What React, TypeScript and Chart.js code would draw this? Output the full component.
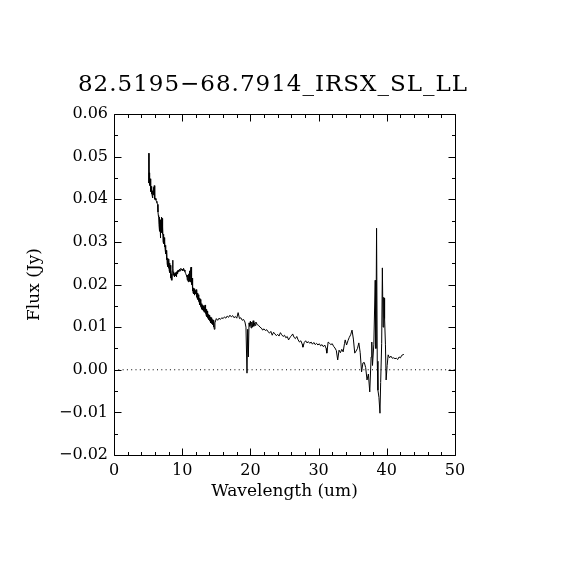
import React, { useEffect, useRef } from "react";
import { Chart, registerables } from "chart.js";

Chart.register(...registerables);

const TITLE = "82.5195\u221268.7914_IRSX_SL_LL";
const X_LABEL = "Wavelength (um)";
const Y_LABEL = "Flux (Jy)";

const X_MIN = 0;
const X_MAX = 50;
const X_STEP = 10;
const X_MINOR = 2;
const Y_MIN = -0.02;
const Y_MAX = 0.06;
const Y_STEP = 0.01;
const Y_MINOR = 0.005;

const wavelength = [
  5.10, 5.13, 5.16, 5.19, 5.22, 5.26, 5.30, 5.34, 5.38, 5.42,
  5.46, 5.50, 5.55, 5.60, 5.65, 5.70, 5.75, 5.80, 5.85, 5.90,
  5.95, 6.00, 6.08, 6.15, 6.22, 6.30, 6.38, 6.45, 6.50, 6.55,
  6.60, 6.65, 6.70, 6.75, 6.80, 6.85, 6.90, 6.95, 7.00, 7.05,
  7.10, 7.15, 7.20, 7.25, 7.30, 7.35, 7.40, 7.45, 7.50, 7.55,
  7.60, 7.65, 7.70, 7.75, 7.80, 7.85, 7.90, 7.95, 8.00, 8.05,
  8.10, 8.15, 8.20, 8.25, 8.30, 8.35, 8.40, 8.45, 8.50, 8.55,
  8.60, 8.65, 8.70, 8.75, 8.80, 8.85, 8.90, 8.95, 9.00, 9.05,
  9.10, 9.15, 9.20, 9.25, 9.30, 9.35, 9.40, 9.50, 9.60, 9.70,
  9.80, 9.90, 10.00, 10.10, 10.20, 10.30, 10.40, 10.50, 10.60, 10.70,
  10.75, 10.80, 10.85, 10.90, 10.95, 11.00, 11.05, 11.10, 11.15, 11.20,
  11.25, 11.30, 11.35, 11.40, 11.45, 11.50, 11.55, 11.60, 11.65, 11.70,
  11.75, 11.80, 11.85, 11.90, 11.95, 12.00, 12.05, 12.10, 12.15, 12.20,
  12.25, 12.30, 12.35, 12.40, 12.45, 12.50, 12.55, 12.60, 12.65, 12.70,
  12.75, 12.80, 12.85, 12.90, 12.95, 13.00, 13.05, 13.10, 13.15, 13.20,
  13.25, 13.30, 13.35, 13.40, 13.45, 13.50, 13.55, 13.60, 13.65, 13.70,
  13.75, 13.80, 13.85, 13.90, 13.95, 14.00, 14.05, 14.10, 14.15, 14.20,
  14.25, 14.30, 14.35, 14.40, 14.45, 14.50, 14.55, 14.60, 14.65, 14.70,
  14.80, 15.00, 15.20, 15.40, 15.60, 15.80, 16.00, 16.20, 16.40, 16.60,
  16.80, 17.00, 17.20, 17.40, 17.60, 17.80, 18.00, 18.20, 18.40, 18.60,
  18.80, 19.00, 19.20, 19.35, 19.50, 19.60, 19.70, 19.80, 19.90, 20.00,
  20.10, 20.20, 20.30, 20.40, 20.50, 20.60, 20.70, 20.80, 21.00, 21.20,
  21.40, 21.60, 21.80, 22.00, 22.20, 22.40, 22.60, 22.80, 23.00, 23.20,
  23.40, 23.60, 23.80, 24.00, 24.20, 24.40, 24.60, 24.80, 25.00, 25.20,
  25.40, 25.60, 25.80, 26.00, 26.20, 26.40, 26.60, 26.80, 27.00, 27.20,
  27.40, 27.60, 27.70, 27.90, 28.10, 28.30, 28.50, 28.70, 28.90, 29.10,
  29.30, 29.50, 29.70, 29.90, 30.10, 30.30, 30.50, 30.70, 30.90, 31.10,
  31.20, 31.40, 31.60, 31.80, 32.00, 32.20, 32.40, 32.60, 32.80, 33.00,
  33.20, 33.40, 33.60, 33.80, 33.90, 34.10, 34.30, 34.50, 34.70, 34.90,
  35.10, 35.30, 35.50, 35.70, 35.90, 36.10, 36.30, 36.50, 36.70, 36.90,
  37.10, 37.30, 37.50, 37.70, 37.80, 37.90, 38.10, 38.30, 38.40, 38.50,
  38.60, 38.70, 38.85, 39.00, 39.10, 39.25, 39.35, 39.45, 39.55, 39.60,
  39.65, 39.70, 39.80, 39.90, 40.05, 40.20, 40.40, 40.60, 40.80, 41.00,
  41.20, 41.40, 41.60, 41.80, 42.00, 42.20, 42.50,
];

const flux = [
  0.0508, 0.0438, 0.0462, 0.0432, 0.0455, 0.0440, 0.0448, 0.0428, 0.0440, 0.0418,
  0.0430, 0.0412, 0.0425, 0.0408, 0.0403, 0.0420, 0.0410, 0.0428, 0.0412, 0.0432,
  0.0405, 0.0400, 0.0402, 0.0398, 0.0395, 0.0392, 0.0388, 0.0370, 0.0362, 0.0358,
  0.0340, 0.0358, 0.0325, 0.0345, 0.0309, 0.0352, 0.0330, 0.0358, 0.0322, 0.0355,
  0.0318, 0.0335, 0.0300, 0.0318, 0.0296, 0.0310, 0.0288, 0.0300, 0.0282, 0.0292,
  0.0272, 0.0280, 0.0258, 0.0276, 0.0248, 0.0262, 0.0242, 0.0255, 0.0238, 0.0260,
  0.0232, 0.0250, 0.0228, 0.0245, 0.0215, 0.0235, 0.0212, 0.0225, 0.0210, 0.0232,
  0.0257, 0.0238, 0.0222, 0.0230, 0.0220, 0.0226, 0.0218, 0.0224, 0.0228, 0.0220,
  0.0226, 0.0218, 0.0230, 0.0225, 0.0232, 0.0226, 0.0234, 0.0230, 0.0236, 0.0232,
  0.0238, 0.0234, 0.0236, 0.0232, 0.0238, 0.0234, 0.0230, 0.0226, 0.0222, 0.0218,
  0.0210, 0.0222, 0.0215, 0.0206, 0.0225, 0.0208, 0.0232, 0.0215, 0.0206, 0.0228,
  0.0236, 0.0241, 0.0220, 0.0200, 0.0215, 0.0185, 0.0195, 0.0180, 0.0192, 0.0178,
  0.0190, 0.0175, 0.0188, 0.0180, 0.0186, 0.0178, 0.0188, 0.0170, 0.0185, 0.0168,
  0.0180, 0.0165, 0.0176, 0.0160, 0.0172, 0.0158, 0.0168, 0.0152, 0.0165, 0.0148,
  0.0160, 0.0145, 0.0155, 0.0142, 0.0152, 0.0140, 0.0150, 0.0138, 0.0150, 0.0135,
  0.0148, 0.0140, 0.0152, 0.0132, 0.0146, 0.0128, 0.0142, 0.0125, 0.0138, 0.0122,
  0.0136, 0.0120, 0.0130, 0.0118, 0.0128, 0.0115, 0.0126, 0.0114, 0.0124, 0.0110,
  0.0122, 0.0108, 0.0120, 0.0112, 0.0118, 0.0106, 0.0116, 0.0100, 0.0114, 0.0095,
  0.0110, 0.0120, 0.0116, 0.0121, 0.0118, 0.0122, 0.0120, 0.0124, 0.0121, 0.0126,
  0.0123, 0.0128, 0.0124, 0.0127, 0.0122, 0.0125, 0.0121, 0.0134, 0.0120, 0.0122,
  0.0116, 0.0118, 0.0112, 0.0100, -0.0008, 0.0095, 0.0030, 0.0110, 0.0102, 0.0114,
  0.0098, 0.0112, 0.0100, 0.0115, 0.0102, 0.0110, 0.0104, 0.0112, 0.0106, 0.0104,
  0.0100, 0.0098, 0.0093, 0.0096, 0.0092, 0.0094, 0.0089, 0.0086, 0.0090, 0.0081,
  0.0088, 0.0084, 0.0080, 0.0083, 0.0079, 0.0087, 0.0082, 0.0078, 0.0081, 0.0075,
  0.0078, 0.0070, 0.0076, 0.0079, 0.0084, 0.0076, 0.0073, 0.0078, 0.0070, 0.0065,
  0.0068, 0.0060, 0.0053, 0.0064, 0.0068, 0.0063, 0.0066, 0.0062, 0.0065, 0.0060,
  0.0064, 0.0059, 0.0062, 0.0058, 0.0061, 0.0056, 0.0059, 0.0054, 0.0058, 0.0050,
  0.0039, 0.0065, 0.0062, 0.0059, 0.0061, 0.0055, 0.0051, 0.0045, 0.0023, 0.0046,
  0.0040, 0.0048, 0.0042, 0.0062, 0.0070, 0.0058, 0.0068, 0.0076, 0.0082, 0.0093,
  0.0072, 0.0039, 0.0044, 0.0050, 0.0063, 0.0040, -0.0005, 0.0016, 0.0017, 0.0005,
  -0.0024, -0.0010, -0.0052, 0.0030, 0.0065, 0.0010, 0.0060, 0.0210, 0.0050, 0.0332,
  0.0020, -0.0048, -0.0065, -0.0102, -0.0030, 0.0062, 0.0239, 0.0100, 0.0170, 0.0125,
  0.0168, 0.0120, 0.0060, -0.0024, 0.0010, 0.0035, 0.0028, 0.0032, 0.0027, 0.0028,
  0.0026, 0.0027, 0.0024, 0.0030, 0.0028, 0.0034, 0.0036,
];

const FONT = '"DejaVu Serif", "Liberation Serif", serif';

const frameTicks = {
  id: "frameTicks",
  afterDraw(chart: any) {
    const { ctx, chartArea: a, scales } = chart;
    const xs = scales.x;
    const ys = scales.y;
    ctx.save();
    ctx.strokeStyle = "#000";
    ctx.lineWidth = 1;
    ctx.setLineDash([]);
    const L = Math.round(a.left) + 0.5;
    const R = Math.round(a.right) + 0.5;
    const T = Math.round(a.top) + 0.5;
    const B = Math.round(a.bottom) + 0.5;
    ctx.beginPath();
    ctx.rect(L, T, R - L, B - T);
    const nx = Math.round((X_MAX - X_MIN) / X_MINOR);
    for (let i = 0; i <= nx; i++) {
      const v = X_MIN + i * X_MINOR;
      const major = Math.abs(v / X_STEP - Math.round(v / X_STEP)) < 1e-6;
      const len = major ? 7 : 3.5;
      const px = Math.round(xs.getPixelForValue(v)) + 0.5;
      ctx.moveTo(px, B);
      ctx.lineTo(px, B - len);
      ctx.moveTo(px, T);
      ctx.lineTo(px, T + len);
    }
    const ny = Math.round((Y_MAX - Y_MIN) / Y_MINOR);
    for (let i = 0; i <= ny; i++) {
      const v = Y_MIN + i * Y_MINOR;
      const major = Math.abs(v / Y_STEP - Math.round(v / Y_STEP)) < 1e-6;
      const len = major ? 7 : 3.5;
      const py = Math.round(ys.getPixelForValue(v)) + 0.5;
      ctx.moveTo(L, py);
      ctx.lineTo(L + len, py);
      ctx.moveTo(R, py);
      ctx.lineTo(R - len, py);
    }
    ctx.stroke();

    ctx.fillStyle = "#000";
    ctx.font = `23px ${FONT}`;
    ctx.textAlign = "center";
    ctx.textBaseline = "alphabetic";
    (ctx as any).letterSpacing = "1px";
    ctx.fillText(TITLE, 273, 91);
    (ctx as any).letterSpacing = "0px";
    ctx.restore();
  },
};

export default function App() {
  const ref = useRef<HTMLCanvasElement | null>(null);

  useEffect(() => {
    if (!ref.current) return;
    const points = wavelength.map((w, i) => ({ x: w, y: flux[i] }));
    const chart = new Chart(ref.current, {
      type: "scatter",
      data: {
        datasets: [
          {
            data: [
              { x: X_MIN, y: 0 },
              { x: X_MAX, y: 0 },
            ],
            showLine: true,
            borderColor: "#000",
            borderWidth: 1,
            borderDash: [1, 3.3],
            pointRadius: 0,
            fill: false,
          },
          {
            data: points,
            showLine: true,
            borderColor: "#000",
            borderWidth: 1,
            pointRadius: 0,
            tension: 0,
            fill: false,
          },
        ],
      },
      options: {
        animation: false,
        responsive: true,
        maintainAspectRatio: false,
        events: [],
        layout: { padding: { top: 114, right: 115, left: 0, bottom: 0 } },
        plugins: {
          legend: { display: false },
          tooltip: { enabled: false },
          title: { display: false },
        },
        scales: {
          x: {
            type: "linear",
            min: X_MIN,
            max: X_MAX,
            grid: { display: false, drawTicks: false },
            border: { display: false },
            ticks: {
              stepSize: X_STEP,
              padding: 6,
              color: "#000",
              font: { family: FONT, size: 16 },
              maxRotation: 0,
              callback: (v: any) => String(Math.round(Number(v))),
            },
            title: {
              display: true,
              text: X_LABEL,
              color: "#000",
              font: { family: FONT, size: 17 },
              padding: { top: 0, bottom: 67.8 },
            },
            afterFit: (s: any) => {
              s.height = 115;
            },
          },
          y: {
            type: "linear",
            min: Y_MIN,
            max: Y_MAX,
            grid: { display: false, drawTicks: false },
            border: { display: false },
            ticks: {
              stepSize: Y_STEP,
              padding: 6,
              color: "#000",
              font: { family: FONT, size: 16 },
              callback: (v: any) => Number(v).toFixed(2).replace("-", "\u2212"),
            },
            title: {
              display: true,
              text: Y_LABEL,
              color: "#000",
              font: { family: FONT, size: 17 },
              padding: { top: 24.8, bottom: 0 },
            },
            afterFit: (s: any) => {
              s.width = 114;
            },
          },
        },
      },
      plugins: [frameTicks],
    });
    return () => chart.destroy();
  }, []);

  return (
    <div style={{ position: "absolute", left: 0, top: 0, width: 570, height: 570, background: "#fff" }}>
      <canvas ref={ref} />
    </div>
  );
}
